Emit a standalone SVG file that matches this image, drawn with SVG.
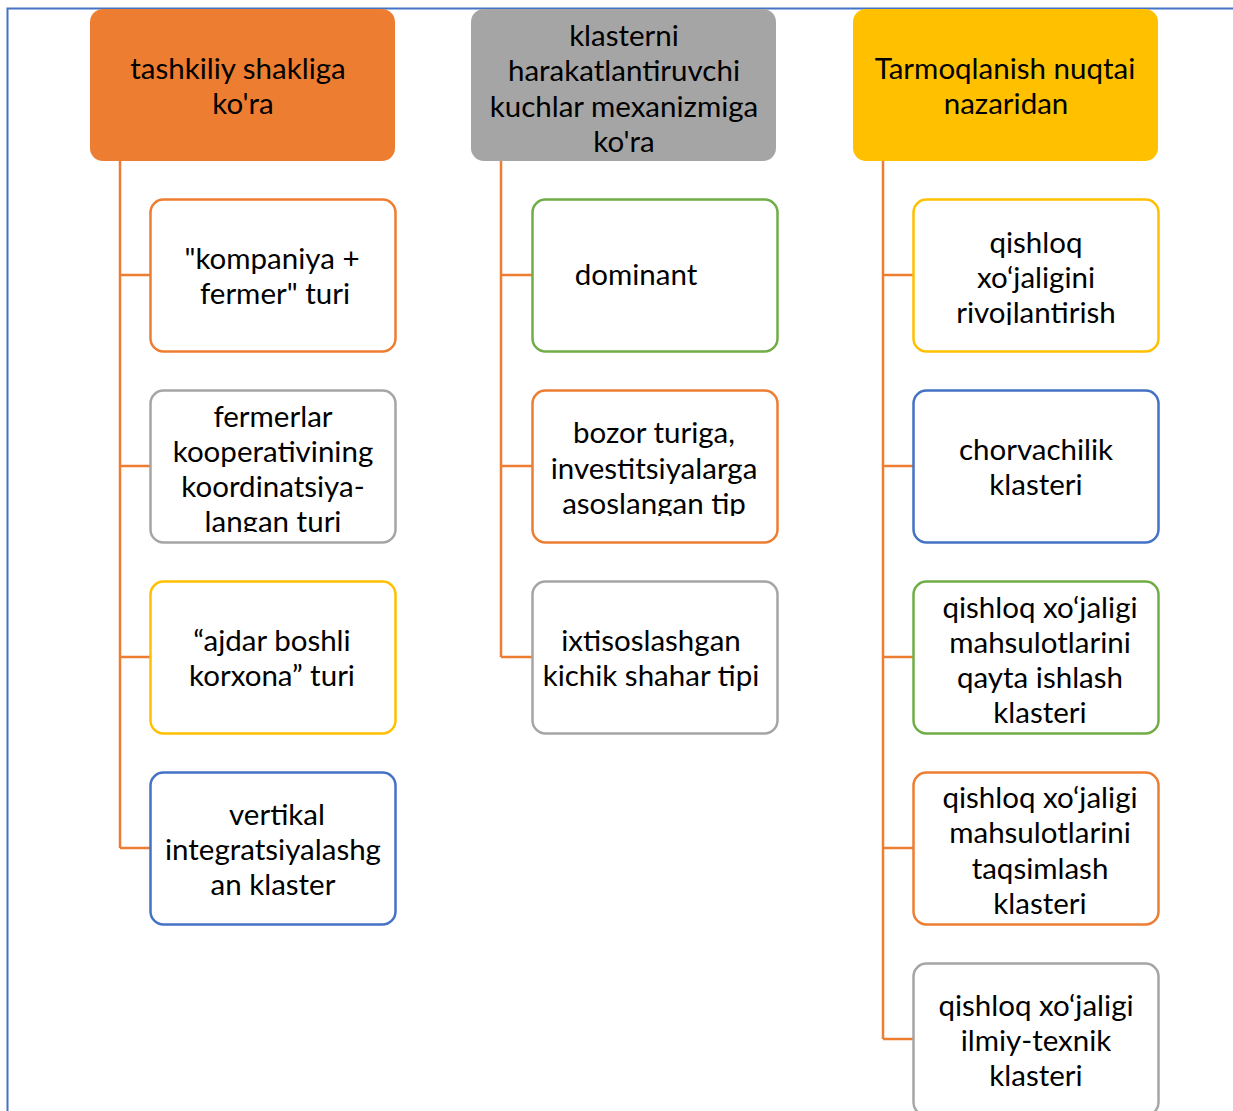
<svg xmlns="http://www.w3.org/2000/svg" width="1233" height="1111" viewBox="0 0 1233 1111">
<style>
text{font-family:Lato,"Open Sans","DejaVu Sans",sans-serif;font-size:29.5px;fill:#000;text-anchor:middle}
.c{fill:#fff;stroke-width:2.5}
.o{stroke:#ED7D31}.g{stroke:#A5A5A5}.y{stroke:#FFC000}.gr{stroke:#70AD47}.b{stroke:#4472C4}
.con{fill:none;stroke:#ED7D31;stroke-width:2.5}
</style>
<defs>
<clipPath id="cp1"><rect x="150" y="390" width="245" height="142"/></clipPath>
<clipPath id="cp2"><rect x="532" y="390" width="245" height="126"/></clipPath>
<clipPath id="cp3"><rect x="913" y="199" width="245" height="126"/></clipPath>
</defs>
<rect width="1233" height="1111" fill="#fff"/>
<path d="M7.5 1111V8.5H1233" fill="none" stroke="#4472C4" stroke-width="2"/>
<g id="connectors">
<path class="con" d="M120 161V848M120 275H150M120 466H150M120 657H150M120 848H150"/>
<path class="con" d="M501 161V657M501 275H532M501 466H532M501 657H532"/>
<path class="con" d="M883 161V1039M883 275H913M883 466H913M883 657H913M883 848H913M883 1039H913"/>
</g>
<g id="h1"><rect x="90" y="9" width="305" height="152" rx="13" fill="#ED7D31"/>
<text x="238" y="79">tashkiliy shakliga</text><text x="243" y="114">ko'ra</text></g>
<g id="h2"><rect x="471" y="9" width="305" height="152" rx="13" fill="#A5A5A5"/>
<text x="624" y="46">klasterni</text><text x="624" y="81">harakatlantiruvchi</text><text x="624" y="117">kuchlar mexanizmiga</text><text x="624" y="152">ko'ra</text></g>
<g id="h3"><rect x="853" y="9" width="305" height="152" rx="13" fill="#FFC000"/>
<text x="1005" y="79">Tarmoqlanish nuqtai</text><text x="1006" y="114">nazaridan</text></g>

<g id="a1"><rect class="c o" x="150.5" y="199.5" width="245" height="152" rx="13"/>
<text x="272" y="269">"kompaniya +</text><text x="275" y="304">fermer" turi</text></g>
<g id="a2"><rect class="c g" x="150.5" y="390.5" width="245" height="152" rx="13"/>
<g clip-path="url(#cp1)"><text x="273" y="427">fermerlar</text><text x="273" y="462">kooperativining</text><text x="273" y="497">koordinatsiya-</text><text x="273" y="532">langan turi</text></g></g>
<g id="a3"><rect class="c y" x="150.5" y="581.5" width="245" height="152" rx="13"/>
<text x="272" y="651">“ajdar boshli</text><text x="272" y="686">korxona” turi</text></g>
<g id="a4"><rect class="c b" x="150.5" y="772.5" width="245" height="152" rx="13"/>
<text x="277" y="825">vertikal</text><text x="273" y="860">integratsiyalashg</text><text x="273" y="895">an klaster</text></g>

<g id="b1"><rect class="c gr" x="532.5" y="199.5" width="245" height="152" rx="13"/>
<text x="636" y="285">dominant</text></g>
<g id="b2"><rect class="c o" x="532.5" y="390.5" width="245" height="152" rx="13"/>
<g clip-path="url(#cp2)"><text x="654" y="443">bozor turiga,</text><text x="654" y="479">investitsiyalarga</text><text x="654" y="514">asoslangan tip</text></g></g>
<g id="b3"><rect class="c g" x="532.5" y="581.5" width="245" height="152" rx="13"/>
<text x="651" y="651">ixtisoslashgan</text><text x="651" y="686">kichik shahar tipi</text></g>

<g id="c1"><rect class="c y" x="913.5" y="199.5" width="245" height="152" rx="13"/>
<g clip-path="url(#cp3)"><text x="1036" y="253">qishloq</text><text x="1036" y="288">xo‘jaligini</text><text x="1036" y="323">rivojlantirish</text></g></g>
<g id="c2"><rect class="c b" x="913.5" y="390.5" width="245" height="152" rx="13"/>
<text x="1036" y="460">chorvachilik</text><text x="1036" y="495">klasteri</text></g>
<g id="c3"><rect class="c gr" x="913.5" y="581.5" width="245" height="152" rx="13"/>
<text x="1040" y="618">qishloq xo‘jaligi</text><text x="1040" y="653">mahsulotlarini</text><text x="1040" y="688">qayta ishlash</text><text x="1040" y="723">klasteri</text></g>
<g id="c4"><rect class="c o" x="913.5" y="772.5" width="245" height="152" rx="13"/>
<text x="1040" y="808">qishloq xo‘jaligi</text><text x="1040" y="843">mahsulotlarini</text><text x="1040" y="879">taqsimlash</text><text x="1040" y="914">klasteri</text></g>
<g id="c5"><rect class="c g" x="913.5" y="963.5" width="245" height="152" rx="13"/>
<text x="1036" y="1016">qishloq xo‘jaligi</text><text x="1036" y="1051">ilmiy-texnik</text><text x="1036" y="1086">klasteri</text></g>
</svg>
